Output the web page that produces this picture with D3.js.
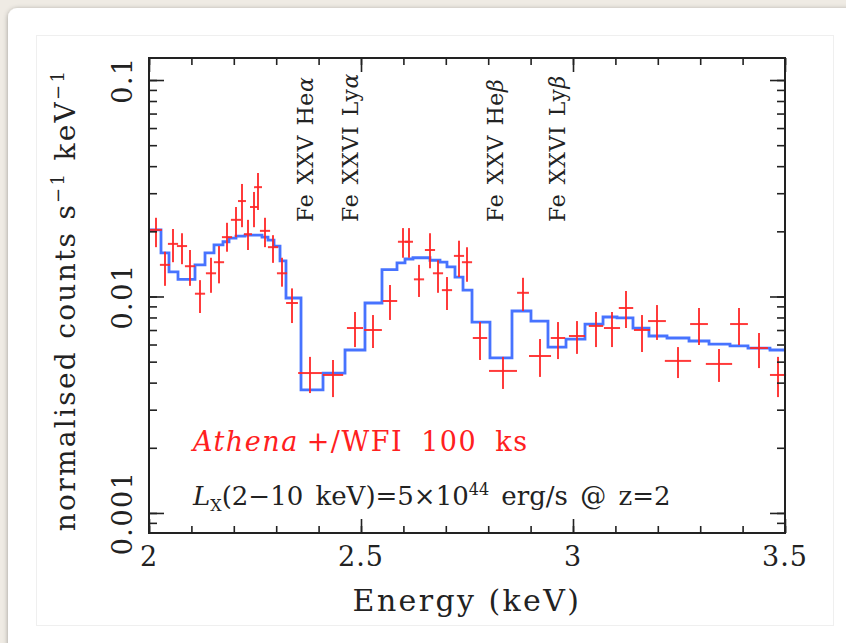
<!DOCTYPE html>
<html><head><meta charset="utf-8">
<script src="https://cdn.jsdelivr.net/npm/d3@7"></script>
<style>
body{margin:0;background:#efebe4;overflow:hidden;}
svg{display:block}
text{font-family:"DejaVu Serif",serif;}
</style></head><body>
<svg id="c" width="846" height="643"></svg>
<script>
// Model (blue histogram): bin edges (keV) and values
const modelEdges = [2.000,2.0283,2.0472,2.0684,2.1085,2.1321,2.1533,2.1745,2.1887,2.2052,2.2264,2.2665,2.2807,2.2948,2.3090,2.3231,2.3585,2.4104,2.4623,2.5094,2.5495,2.5849,2.6038,2.6226,2.6627,2.6863,2.7028,2.7217,2.7406,2.7618,2.8042,2.8561,2.9009,2.9410,2.9835,3.0283,3.0708,3.1038,3.1415,3.1792,3.2217,3.2736,3.3208,3.3703,3.4127,3.4646,3.500];
const modelValues = [0.0203,0.0159,0.0130,0.0120,0.0140,0.0159,0.0173,0.0179,0.0186,0.0190,0.0192,0.0188,0.0182,0.0171,0.0146,0.00984,0.00370,0.00443,0.00566,0.00933,0.0133,0.0143,0.0149,0.0151,0.0147,0.0144,0.0137,0.0123,0.0107,0.00762,0.00520,0.00857,0.00770,0.00584,0.00636,0.00746,0.00804,0.00796,0.00715,0.00657,0.00643,0.00623,0.00603,0.00591,0.00578,0.00566];
// Data points (red crosses)
const dataEnergy = [2.0165,2.0377,2.0566,2.0778,2.0967,2.1203,2.1462,2.1651,2.1840,2.2052,2.2193,2.2335,2.2476,2.2571,2.2736,2.2925,2.3137,2.3373,2.3797,2.4340,2.4858,2.5283,2.5684,2.5991,2.6132,2.6368,2.6627,2.6816,2.7028,2.7311,2.7500,2.7807,2.8349,2.8821,2.9222,2.9646,3.0094,3.0542,3.0920,3.1250,3.1627,3.1981,3.2476,3.2972,3.3443,3.3915,3.4387,3.4835];
const dataHalfWidth = [0.014,0.012,0.012,0.012,0.012,0.012,0.012,0.012,0.012,0.012,0.0094,0.0094,0.0094,0.0094,0.012,0.012,0.012,0.014,0.028,0.024,0.019,0.021,0.017,0.012,0.0094,0.012,0.012,0.012,0.012,0.012,0.012,0.017,0.033,0.014,0.026,0.017,0.019,0.017,0.019,0.017,0.019,0.021,0.031,0.021,0.031,0.021,0.021,0.019];
const dataValue = [0.0203,0.0140,0.0175,0.0171,0.0138,0.0103,0.0128,0.0144,0.0188,0.0226,0.0276,0.0194,0.0259,0.0320,0.0201,0.0169,0.0128,0.00933,0.00443,0.00434,0.00715,0.00700,0.00953,0.0179,0.0179,0.0120,0.0164,0.0128,0.0107,0.0154,0.0144,0.00643,0.00453,0.0104,0.00531,0.00643,0.00657,0.00731,0.00715,0.00885,0.00700,0.00770,0.00504,0.00746,0.00488,0.00746,0.00578,0.00434];
const dataLow = [0.0169,0.0112,0.0144,0.0141,0.0112,0.00839,0.0104,0.0115,0.0161,0.0188,0.0209,0.0164,0.0209,0.0251,0.0169,0.0143,0.0111,0.00754,0.00358,0.00343,0.00584,0.00578,0.00779,0.0151,0.0151,0.00995,0.0135,0.0104,0.00866,0.0123,0.0117,0.00509,0.00374,0.00857,0.00425,0.00514,0.00543,0.00584,0.00584,0.00715,0.00554,0.00630,0.00420,0.00597,0.00403,0.00597,0.00467,0.00343];
const dataHigh = [0.0231,0.0161,0.0205,0.0196,0.0164,0.0119,0.0151,0.0171,0.0219,0.0259,0.0331,0.0226,0.0304,0.0372,0.0231,0.0192,0.0151,0.0109,0.00526,0.00509,0.00848,0.00821,0.0113,0.0207,0.0207,0.0140,0.0196,0.0147,0.0123,0.0181,0.0169,0.00762,0.00526,0.0122,0.00636,0.00762,0.00770,0.00848,0.00848,0.0106,0.00821,0.00913,0.00584,0.00885,0.00572,0.00885,0.00678,0.00526];
// Ticks and labels
const xTickLabels = [2, 2.5, 3, 3.5];
const yTickLabels = [0.1, 0.01, 0.001];
const lineLabelText = ["Fe XXV He","Fe XXVI Ly","Fe XXV He","Fe XXVI Ly"];
const lineLabelGreek = ["\u03b1","\u03b1","\u03b2","\u03b2"];
const lineLabelEnergy = [2.368, 2.474, 2.816, 2.962];

const svg = d3.select("#c");
const defs = svg.append("defs");
const f = defs.append("filter").attr("id","sh").attr("x","-5%").attr("y","-5%").attr("width","110%").attr("height","110%");
f.append("feDropShadow").attr("dx",0).attr("dy",1).attr("stdDeviation",2.5).attr("flood-color","#000").attr("flood-opacity",0.35);

svg.append("rect").attr("x",8).attr("y",8).attr("width",870).attr("height",670).attr("rx",9)
  .attr("fill","#fff").attr("filter","url(#sh)");
svg.append("rect").attr("x",36.5).attr("y",35.5).attr("width",797).attr("height",590)
  .attr("fill","none").attr("stroke","#efefef").attr("stroke-width",1);

const L=149, R=785, T=58, B=533;
const x = d3.scaleLinear().domain([2,3.5]).range([L,R]);
const y = d3.scaleLog().domain([0.000808,0.1264]).range([B,T]);

const g = svg.append("g");
defs.append("clipPath").attr("id","cp").append("rect").attr("x",L).attr("y",T).attr("width",R-L).attr("height",B-T);

// model step line
const stepPts = [];
modelValues.forEach((v,i)=>{ stepPts.push([modelEdges[i],v]); stepPts.push([modelEdges[i+1],v]); });
const line = d3.line().x(d=>x(d[0])).y(d=>y(d[1]));
g.append("path").attr("d",line(stepPts)).attr("fill","none").attr("stroke","#3d6cff")
  .attr("stroke-width",2.8).attr("clip-path","url(#cp)").attr("stroke-opacity",0.95);

// data crosses
const red = "#ff2626";
const dg = g.append("g").attr("stroke",red).attr("stroke-width",2).attr("stroke-opacity",0.9);
dataEnergy.forEach((e,i)=>{
  dg.append("line").attr("x1",x(e-dataHalfWidth[i])).attr("x2",x(e+dataHalfWidth[i]))
    .attr("y1",y(dataValue[i])).attr("y2",y(dataValue[i]));
  dg.append("line").attr("x1",x(e)).attr("x2",x(e))
    .attr("y1",y(dataLow[i])).attr("y2",y(dataHigh[i]));
});

// axes ticks (inward)
const ink = "#222";
const minorX = d3.range(2,3.5001,0.1).map(v=>+v.toFixed(2));
const majorX = xTickLabels;
function axisTicks(axisFn, scale, vals, size, transform){
  const a = axisFn(scale).tickValues(vals).tickSize(size).tickFormat("");
  const gg = svg.append("g").attr("transform",transform).call(a);
  gg.select(".domain").remove();
  gg.selectAll("line").attr("stroke",ink).attr("stroke-width",1.6);
}
axisTicks(d3.axisBottom, x, minorX, -7, `translate(0,${B})`);
axisTicks(d3.axisBottom, x, majorX, -14, `translate(0,${B})`);
axisTicks(d3.axisTop, x, minorX, -7, `translate(0,${T})`);
axisTicks(d3.axisTop, x, majorX, -14, `translate(0,${T})`);
const minorY = [];
[0.0001,0.001,0.01,0.1].forEach(d=>{ for(let k=1;k<10;k++){ const v=d*k; if(v>=0.000808 && v<=0.1264) minorY.push(v);} });
axisTicks(d3.axisLeft, y, minorY, -8, `translate(${L},0)`);
axisTicks(d3.axisLeft, y, yTickLabels, -15, `translate(${L},0)`);
axisTicks(d3.axisRight, y, minorY, -8, `translate(${R},0)`);
axisTicks(d3.axisRight, y, yTickLabels, -15, `translate(${R},0)`);

// frame
svg.append("rect").attr("x",L).attr("y",T).attr("width",R-L).attr("height",B-T)
  .attr("fill","none").attr("stroke",ink).attr("stroke-width",2);

// x tick labels
svg.append("g").selectAll("text").data(xTickLabels).join("text")
  .attr("x",d=>x(d)).attr("y",566).attr("text-anchor","middle")
  .attr("font-size",27).attr("letter-spacing",1).attr("fill","#222").text(d=>d);
// y tick labels (rotated)
svg.append("g").selectAll("text").data(yTickLabels).join("text")
  .attr("transform",d=>`translate(132,${y(d)}) rotate(-90)`).attr("text-anchor","middle")
  .attr("font-size",27).attr("letter-spacing",1.5).attr("fill","#222").text(d=>d);

// axis titles
svg.append("text").attr("x",x(2.75)).attr("y",611).attr("text-anchor","middle")
  .attr("font-size",30).attr("letter-spacing",2.4).attr("fill","#222").text("Energy (keV)");
const yt = svg.append("text").attr("transform",`translate(75,300) rotate(-90)`).attr("text-anchor","middle")
  .attr("font-size",28).attr("letter-spacing",2.3).attr("fill","#222");
yt.append("tspan").text("normalised counts s");
yt.append("tspan").attr("font-size",18).attr("dy",-11).text("\u22121");
yt.append("tspan").attr("dy",11).text(" keV");
yt.append("tspan").attr("font-size",18).attr("dy",-11).text("\u22121");

// line labels
const ll = svg.append("g").selectAll("text").data(lineLabelText).join("text")
  .attr("transform",(d,i)=>`translate(${x(lineLabelEnergy[i])+8},222) rotate(-90)`)
  .attr("font-size",22).attr("letter-spacing",0.6).attr("word-spacing",2).attr("fill","#222");
ll.append("tspan").text(d=>d);
ll.append("tspan").attr("font-style","italic").text((d,i)=>lineLabelGreek[i]);

// annotations
const a1 = svg.append("text").attr("x",193).attr("y",451).attr("font-size",27)
  .attr("letter-spacing",1.5).attr("word-spacing",8).attr("fill","#ff2020");
a1.append("tspan").attr("font-style","italic").text("Athena");
a1.append("tspan").attr("dx",8).text("+/WFI 100 ks");
const a2 = svg.append("text").attr("x",193).attr("y",505).attr("font-size",26)
  .attr("word-spacing",4).attr("fill","#222");
a2.append("tspan").attr("font-style","italic").text("L");
a2.append("tspan").attr("font-size",16).attr("dy",6).text("X");
a2.append("tspan").attr("dy",-6).text("(2\u221210 keV)=5\u00d710");
a2.append("tspan").attr("font-size",16).attr("dy",-10).text("44");
a2.append("tspan").attr("dy",10).text(" erg/s @ z=2");
</script></body></html>
